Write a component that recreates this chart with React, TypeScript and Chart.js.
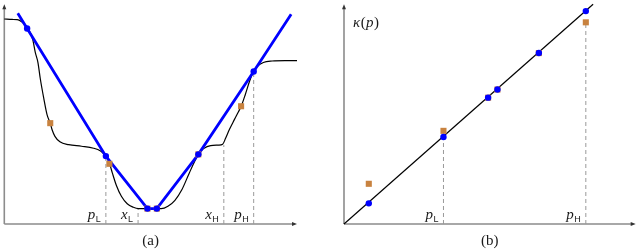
import React, { useEffect, useRef } from "react";
import { Chart, registerables } from "chart.js";
Chart.register(...registerables);

// ---------- Panel (a) data ----------
const A_CURVE_X = [0, 0.27, 0.44, 0.58, 0.68, 0.81, 0.97, 1.06, 1.15, 1.23, 1.35, 1.46, 1.57, 1.63, 1.73, 1.9, 2.2, 2.64, 3.05, 3.29, 3.42, 3.53, 3.61, 3.69, 3.83, 4.0, 4.2, 4.41, 4.58, 5.02, 5.36, 5.59, 5.83, 6.07, 6.31, 6.51, 6.64, 6.81, 7.05, 7.32, 7.46, 7.56, 7.69, 7.86, 8.0, 8.1, 8.24, 8.37, 8.51, 8.64, 8.85, 9.15, 9.59, 10];
const A_CURVE_Y = [9.33, 9.31, 9.3, 9.22, 9.1, 8.91, 8.4, 7.8, 7.35, 6.61, 5.71, 4.98, 4.59, 4.3, 3.99, 3.74, 3.61, 3.54, 3.45, 3.32, 3.16, 2.96, 2.69, 2.33, 1.75, 1.26, 0.92, 0.76, 0.7, 0.7, 0.7, 0.81, 1.08, 1.57, 2.29, 2.87, 3.18, 3.43, 3.57, 3.59, 3.63, 3.9, 4.3, 4.75, 5.11, 5.38, 5.92, 6.46, 6.93, 7.17, 7.35, 7.42, 7.44, 7.44];
const A_INTERP_X = [0.46, 0.78, 3.47, 4.89, 5.21, 6.63, 8.52, 9.8];
const A_INTERP_Y = [9.59, 8.9, 3.09, 0.7, 0.7, 3.17, 6.94, 9.55];
const A_BLUE_X = [0.78, 3.47, 4.89, 5.21, 6.63, 8.52];
const A_BLUE_Y = [8.9, 3.09, 0.7, 0.7, 3.17, 6.94];
const A_SQ_X = [1.57, 3.59, 8.09, 4.89, 5.21, 6.63];
const A_SQ_Y = [4.59, 2.74, 5.36, 0.7, 0.7, 3.17];
const A_DASH_X = [3.47, 4.57, 7.5, 8.52];
const A_DASH_TOP = [3.09, 0.7, 3.59, 6.94];
const A_TICK_MAIN = ["p", "x", "x", "p"];
const A_TICK_SUB = ["L", "L", "H", "H"];

// ---------- Panel (b) data ----------
const B_LINE_X = [0, 8.54];
const B_LINE_Y = [0, 10];
const B_BLUE_X = [0.85, 3.41, 4.94, 5.26, 6.68, 8.29];
const B_BLUE_Y = [0.94, 3.96, 5.75, 6.12, 7.78, 9.69];
const B_SQ_X = [0.85, 3.41, 8.29, 4.94, 5.26, 6.68];
const B_SQ_Y = [1.83, 4.24, 9.18, 5.75, 6.12, 7.78];
const B_DASH_X = [3.41, 8.29];
const B_DASH_TOP = [3.96, 9.18];
const B_TICK_MAIN = ["p", "p"];
const B_TICK_SUB = ["L", "H"];

const BLUE = "#0000ff";
const ORANGE = "#c8823f";
const DASH = "#9a9a9a";
const AXIS = "#8c8c8c";
const TEXT = "#1a1a1a";
const SERIF = '"Liberation Serif", "DejaVu Serif", "Times New Roman", serif';
const SANS = '"Liberation Sans", "DejaVu Sans", Arial, sans-serif';

const pts = (xs: number[], ys: number[]) => xs.map((x, i) => ({ x, y: ys[i] }));

function drawAxes(ctx: CanvasRenderingContext2D, a: any) {
  const l = a.left, r = a.right, t = a.top, b = a.bottom;
  ctx.save();
  ctx.strokeStyle = AXIS;
  ctx.lineWidth = 1.6;
  ctx.beginPath();
  ctx.moveTo(l, b);
  ctx.lineTo(l, t + 3);
  ctx.moveTo(l, b);
  ctx.lineTo(r - 3, b);
  ctx.stroke();
  ctx.fillStyle = "#333";
  ctx.beginPath();
  ctx.moveTo(l, t);
  ctx.lineTo(l - 2, t + 5);
  ctx.lineTo(l + 2, t + 5);
  ctx.closePath();
  ctx.fill();
  ctx.beginPath();
  ctx.moveTo(r, b);
  ctx.lineTo(r - 5, b - 2);
  ctx.lineTo(r - 5, b + 2);
  ctx.closePath();
  ctx.fill();
  ctx.restore();
}

function drawSubLabel(ctx: CanvasRenderingContext2D, main: string, sub: string, rightX: number, baseY: number) {
  ctx.save();
  ctx.fillStyle = TEXT;
  ctx.textBaseline = "alphabetic";
  ctx.textAlign = "left";
  const mf = "italic 15px " + SERIF;
  const sf = "9px " + SANS;
  ctx.font = mf;
  const w1 = ctx.measureText(main).width;
  ctx.font = sf;
  const w2 = ctx.measureText(sub).width;
  const x0 = rightX - w1 - w2 - 0.5;
  ctx.font = mf;
  ctx.fillText(main, x0, baseY);
  ctx.font = sf;
  ctx.fillText(sub, x0 + w1 + 0.5, baseY + 3.5);
  ctx.restore();
}

function makePlugin(ticksMain: string[], ticksSub: string[], ticksX: number[], caption: string, yLabel: boolean) {
  return {
    id: "decor",
    beforeDatasetsDraw(chart: any) {
      drawAxes(chart.ctx, chart.chartArea);
    },
    afterDraw(chart: any) {
      const ctx = chart.ctx as CanvasRenderingContext2D;
      const a = chart.chartArea;
      const xs = chart.scales.x;
      ticksX.forEach((v, i) => {
        const px = xs.getPixelForValue(v);
        drawSubLabel(ctx, ticksMain[i], ticksSub[i], px - 5, a.bottom - 5.5);
      });
      ctx.save();
      ctx.fillStyle = TEXT;
      ctx.font = "15px " + SERIF;
      ctx.textAlign = "center";
      ctx.textBaseline = "middle";
      ctx.fillText(caption, (a.left + a.right) / 2, a.bottom + 17);
      ctx.restore();
      if (yLabel) {
        ctx.save();
        ctx.fillStyle = TEXT;
        ctx.textBaseline = "alphabetic";
        ctx.textAlign = "left";
        let x = a.left + 9;
        const y = a.top + 23;
        const parts: [string, boolean][] = [["κ", true], ["(", false], ["p", true], [")", false]];
        parts.forEach(([s, it]) => {
          ctx.font = (it ? "italic " : "") + "15px " + SERIF;
          ctx.fillText(s, x, y);
          x += ctx.measureText(s).width + (it ? 0.6 : 0.2);
        });
        ctx.restore();
      }
    },
  };
}

function baseOptions(padding: any) {
  return {
    responsive: false,
    animation: false as const,
    events: [] as any[],
    layout: { padding },
    plugins: { legend: { display: false }, tooltip: { enabled: false }, title: { display: false } },
    scales: {
      x: { type: "linear" as const, min: 0, max: 10, display: false },
      y: { type: "linear" as const, min: 0, max: 10, display: false },
    },
  };
}

function dashSets(xs: number[], tops: number[]) {
  return xs.map((x, i) => ({
    data: [{ x, y: 0 }, { x, y: tops[i] }],
    borderColor: DASH,
    borderWidth: 1,
    borderDash: [4, 3],
    pointRadius: 0,
    fill: false,
    tension: 0,
  }));
}

function blueSet(xs: number[], ys: number[]) {
  return {
    data: pts(xs, ys),
    showLine: false,
    pointStyle: "circle",
    pointRadius: 3.2,
    pointBackgroundColor: BLUE,
    pointBorderColor: BLUE,
    pointBorderWidth: 0,
  };
}

function squareSet(xs: number[], ys: number[]) {
  return {
    data: pts(xs, ys),
    showLine: false,
    pointStyle: "rect",
    pointRadius: 4.3,
    pointBackgroundColor: ORANGE,
    pointBorderColor: ORANGE,
    pointBorderWidth: 0,
  };
}

export default function App() {
  const refA = useRef<HTMLCanvasElement>(null);
  const refB = useRef<HTMLCanvasElement>(null);

  useEffect(() => {
    let alive = true;
    const chartA = new Chart(refA.current as HTMLCanvasElement, {
      type: "line",
      data: {
        datasets: [
          blueSet(A_BLUE_X, A_BLUE_Y),
          squareSet(A_SQ_X, A_SQ_Y),
          {
            data: pts(A_INTERP_X, A_INTERP_Y),
            borderColor: BLUE,
            borderWidth: 2.8,
            pointRadius: 0,
            tension: 0,
            fill: false,
          },
          {
            data: pts(A_CURVE_X, A_CURVE_Y),
            borderColor: "#000",
            borderWidth: 1.2,
            pointRadius: 0,
            cubicInterpolationMode: "monotone",
            fill: false,
          },
          ...dashSets(A_DASH_X, A_DASH_TOP),
        ] as any,
      },
      options: { ...baseOptions({ left: 2, top: 1, right: 23, bottom: 26 }), clip: false } as any,
      plugins: [makePlugin(A_TICK_MAIN, A_TICK_SUB, A_DASH_X, "(a)", false)],
    });

    const chartB = new Chart(refB.current as HTMLCanvasElement, {
      type: "line",
      data: {
        datasets: [
          blueSet(B_BLUE_X, B_BLUE_Y),
          squareSet(B_SQ_X, B_SQ_Y),
          {
            data: pts(B_LINE_X, B_LINE_Y),
            borderColor: "#000",
            borderWidth: 1.2,
            pointRadius: 0,
            tension: 0,
            fill: false,
          },
          ...dashSets(B_DASH_X, B_DASH_TOP),
        ] as any,
      },
      options: { ...baseOptions({ left: 24, top: 0, right: 2, bottom: 26 }), clip: false } as any,
      plugins: [makePlugin(B_TICK_MAIN, B_TICK_SUB, B_DASH_X, "(b)", true)],
    });

    const fonts = (document as any).fonts;
    if (fonts && fonts.ready) {
      fonts.ready.then(() => {
        if (alive) {
          chartA.update();
          chartB.update();
        }
      });
    }

    return () => {
      alive = false;
      chartA.destroy();
      chartB.destroy();
    };
  }, []);

  return (
    <div style={{ position: "absolute", left: 0, top: 0, width: 640, height: 250, background: "#fff" }}>
      <canvas ref={refA} width={320} height={250} style={{ position: "absolute", left: 0, top: 0, width: 320, height: 250 }} />
      <canvas ref={refB} width={320} height={250} style={{ position: "absolute", left: 320, top: 0, width: 320, height: 250 }} />
    </div>
  );
}
